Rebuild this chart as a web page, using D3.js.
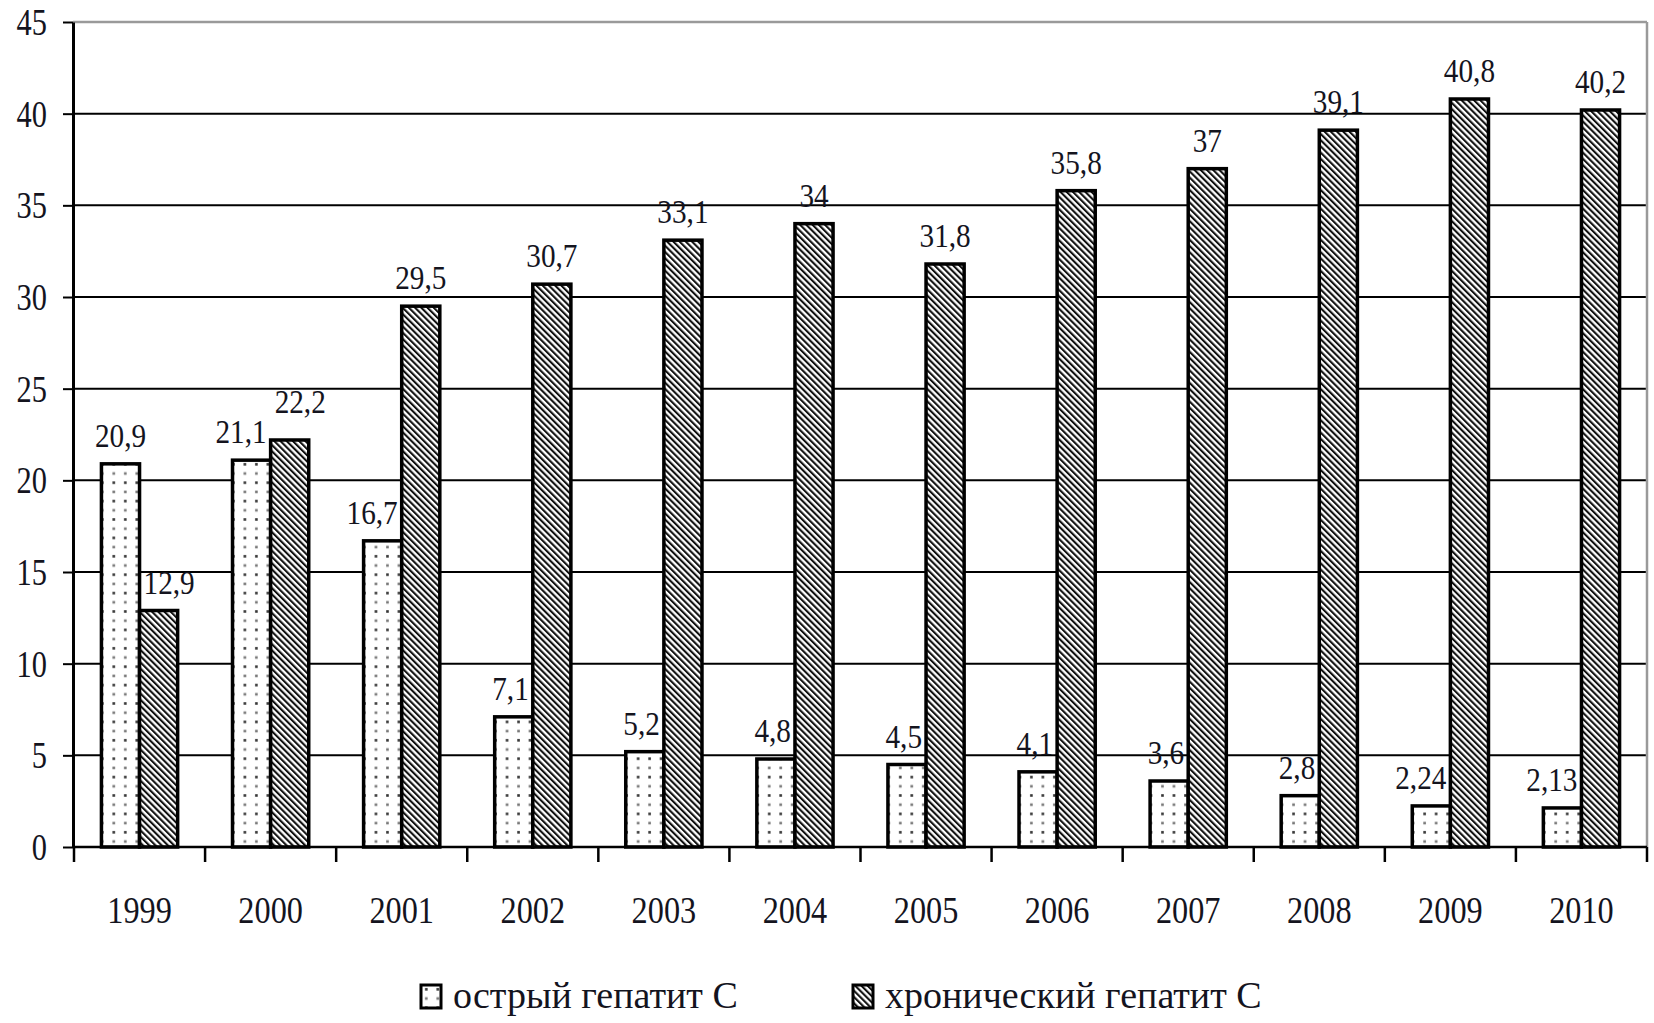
<!DOCTYPE html>
<html>
<head>
<meta charset="utf-8">
<script src="https://cdn.jsdelivr.net/npm/d3@7"></script>
<style>
  html, body { margin: 0; padding: 0; background: #fff; }
  svg { display: block; }
  text { font-family: "Liberation Serif", "DejaVu Serif", serif; fill: #14141e; }
</style>
</head>
<body>
<svg id="chart" width="1654" height="1023"></svg>
<script>
// Hepatitis C incidence by year
const years = ['1999', '2000', '2001', '2002', '2003', '2004', '2005', '2006', '2007', '2008', '2009', '2010'];
const acute = [20.9, 21.1, 16.7, 7.1, 5.2, 4.8, 4.5, 4.1, 3.6, 2.8, 2.24, 2.13];
const chronic = [12.9, 22.2, 29.5, 30.7, 33.1, 34, 31.8, 35.8, 37, 39.1, 40.8, 40.2];
const seriesNames = ['острый гепатит С', 'хронический гепатит С'];
const yTicks = [0, 5, 10, 15, 20, 25, 30, 35, 40, 45];

const svg = d3.select('#chart');
const plot = { left: 73, right: 1647, top: 22, bottom: 847 };

const y = d3.scaleLinear().domain([0, 45]).range([plot.bottom, plot.top]);
const x = d3.scaleBand().domain(years).range([plot.left + 1, plot.right]).paddingInner(0).paddingOuter(0);
const xs = d3.scaleBand().domain([0, 1]).range([0, x.bandwidth()]).paddingInner(0).paddingOuter(0.72);

const fmt = v => String(v).replace('.', ',');

// turn x/y attributes into a transform so glyphs can be narrowed
function squeeze(sel, sx) {
  sel.each(function () {
    const t = d3.select(this);
    const tx = +t.attr('x') || 0, ty = +t.attr('y') || 0;
    t.attr('x', 0).attr('y', 0).attr('transform', `translate(${tx},${ty}) scale(${sx},1)`);
  });
}

// fill patterns
const defs = svg.append('defs');
const dots = defs.append('pattern').attr('id', 'dots')
  .attr('patternUnits', 'userSpaceOnUse').attr('width', 11.5).attr('height', 18.4);
dots.append('rect').attr('width', 11.5).attr('height', 18.4).attr('fill', '#fff');
dots.append('rect').attr('x', 4).attr('y', 3).attr('width', 2.6).attr('height', 2.6).attr('fill', '#333');
dots.append('rect').attr('x', 4).attr('y', 12.2).attr('width', 2.6).attr('height', 2.6).attr('fill', '#777');

const hatch = defs.append('pattern').attr('id', 'hatch')
  .attr('patternUnits', 'userSpaceOnUse').attr('width', 4.4).attr('height', 10)
  .attr('patternTransform', 'rotate(-45)');
hatch.append('rect').attr('width', 4.4).attr('height', 10).attr('fill', '#fff');
hatch.append('rect').attr('x', 0).attr('y', 0).attr('width', 2.1).attr('height', 10).attr('fill', '#111');

const fills = ['url(#dots)', 'url(#hatch)'];

// gridlines
svg.append('g').selectAll('line').data(yTicks.filter(t => t > 0)).join('line')
  .attr('x1', plot.left).attr('x2', plot.right)
  .attr('y1', d => y(d)).attr('y2', d => y(d))
  .attr('stroke', d => d === 45 ? '#9a9a9a' : '#000')
  .attr('stroke-width', d => d === 45 ? 2.5 : 2);

// right frame edge
svg.append('line').attr('x1', plot.right).attr('x2', plot.right)
  .attr('y1', y(45)).attr('y2', y(0)).attr('stroke', '#9a9a9a').attr('stroke-width', 2.5);

// bars
const rows = years.map((yr, i) => ({ yr, vals: [acute[i], chronic[i]] }));
const groups = svg.append('g').selectAll('g').data(rows).join('g')
  .attr('transform', d => `translate(${x(d.yr)},0)`);
groups.selectAll('rect').data(d => d.vals.map((v, k) => ({ v, k }))).join('rect')
  .attr('x', d => xs(d.k))
  .attr('y', d => y(d.v))
  .attr('width', xs.bandwidth())
  .attr('height', d => y(0) - y(d.v))
  .attr('fill', d => fills[d.k])
  .attr('stroke', '#000')
  .attr('stroke-width', 3.5);

// value labels; a label pushed sideways when the neighbouring bar would cover it
const labelSx = 0.86;
const bw = xs.bandwidth();
groups.each(function (row) {
  const g = d3.select(this);
  const [a, c] = row.vals;
  row.vals.forEach((v, k) => {
    const t = g.append('text')
      .attr('text-anchor', 'middle')
      .attr('font-size', 34)
      .text(fmt(v));
    const w = t.node().getComputedTextLength() * labelSx;
    const push = Math.max(0, (w - bw) / 2 + 4);
    let dx = 0, dy = 0;
    if (k === 0 && c > a) dx = -push;
    if (k === 1 && a > c - 1.5) dx = push;
    if (k === 1 && Math.abs(a - c) < 2) dy = -10;
    t.attr('x', xs(k) + bw / 2 + dx).attr('y', y(v) - 17 + dy);
    squeeze(t, labelSx);
  });
});

// baseline
svg.append('line').attr('x1', plot.left).attr('x2', plot.right)
  .attr('y1', y(0)).attr('y2', y(0)).attr('stroke', '#000').attr('stroke-width', 2.5);

// y axis
const yAxis = svg.append('g').attr('transform', `translate(${plot.left},0)`)
  .call(d3.axisLeft(y).tickValues(yTicks).tickSize(10).tickSizeOuter(0).tickPadding(16));
yAxis.attr('font-family', null);
yAxis.select('.domain').attr('stroke', '#000').attr('stroke-width', 3);
yAxis.selectAll('.tick line').attr('stroke', '#000').attr('stroke-width', 2);
yAxis.selectAll('.tick text').attr('font-size', 38).attr('fill', null).attr('dy', '0.33em');
squeeze(yAxis.selectAll('.tick text'), 0.8);

// x axis: labels centred on bands, tick marks at band edges
const xAxis = svg.append('g').attr('transform', `translate(0,${plot.bottom})`)
  .call(d3.axisBottom(x).tickSize(0).tickSizeOuter(0));
xAxis.select('.domain').remove();
xAxis.attr('font-family', null);
xAxis.selectAll('.tick text').attr('font-size', 38).attr('fill', null).attr('dy', 0).attr('y', 76);
squeeze(xAxis.selectAll('.tick text'), 0.85);

const edges = years.map(d => x(d)).concat([x.range()[1]]);
svg.append('g').selectAll('line').data(edges).join('line')
  .attr('x1', d => d).attr('x2', d => d)
  .attr('y1', plot.bottom).attr('y2', plot.bottom + 15)
  .attr('stroke', '#000').attr('stroke-width', 2.5);

// legend
const legendX = [421, 853];
const lg = svg.append('g').selectAll('g').data(seriesNames).join('g')
  .attr('transform', (d, i) => `translate(${legendX[i]},985)`);
lg.append('rect').attr('width', 20).attr('height', 23)
  .attr('fill', (d, i) => fills[i]).attr('stroke', '#000').attr('stroke-width', 3);
lg.append('text').attr('x', 32).attr('y', 23).attr('font-size', 38).text(d => d);
</script>
</body>
</html>
